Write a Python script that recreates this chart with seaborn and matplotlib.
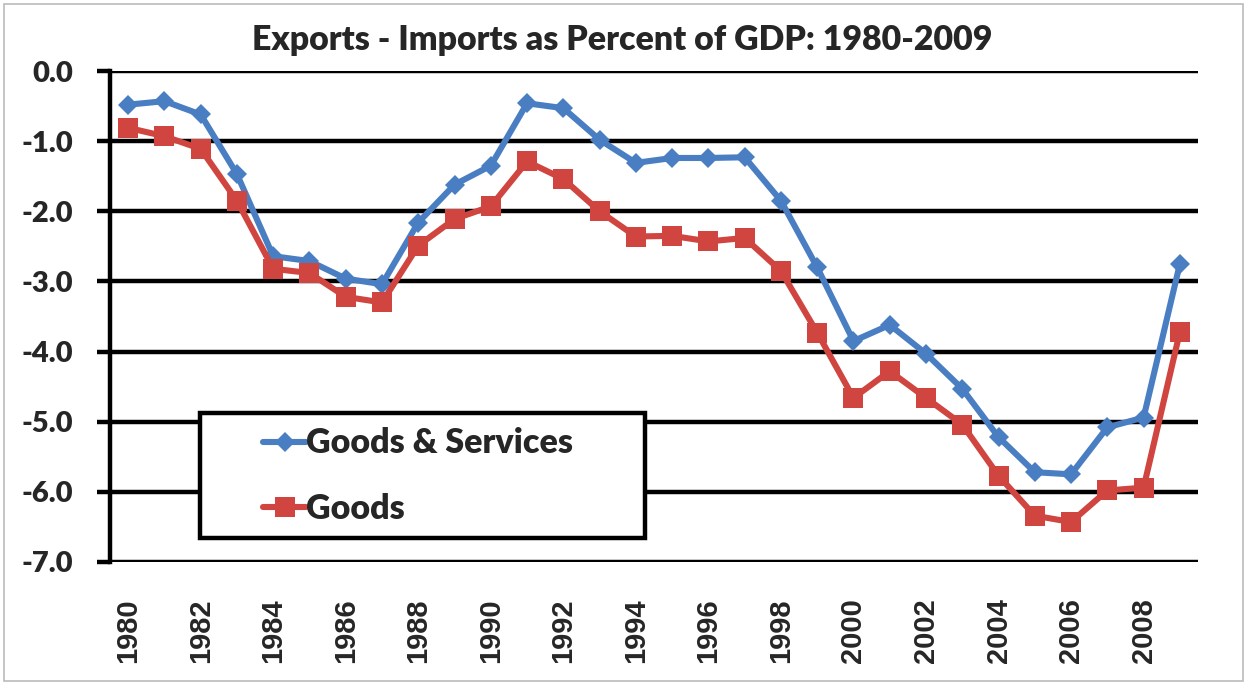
import matplotlib
matplotlib.use("Agg")
import matplotlib.pyplot as plt
from matplotlib.patches import Rectangle
from matplotlib.lines import Line2D
import numpy as np
import pandas as pd
import seaborn as sns

# Trade balance, percent of GDP
years = list(range(1980, 2010))
goods_services = [-0.48, -0.43, -0.62, -1.47, -2.64, -2.71, -2.96, -3.04,
                  -2.16, -1.62, -1.35, -0.46, -0.53, -0.98, -1.31, -1.24,
                  -1.24, -1.23, -1.85, -2.80, -3.85, -3.62, -4.03, -4.53,
                  -5.22, -5.72, -5.75, -5.08, -4.94, -2.75]
goods = [-0.81, -0.93, -1.11, -1.85, -2.82, -2.88, -3.22, -3.30,
         -2.49, -2.11, -1.93, -1.29, -1.54, -2.00, -2.36, -2.35,
         -2.43, -2.38, -2.85, -3.73, -4.66, -4.28, -4.66, -5.04,
         -5.77, -6.34, -6.43, -5.98, -5.94, -3.72]
series_names = ["Goods & Services", "Goods"]
y_ticks = [0.0, -1.0, -2.0, -3.0, -4.0, -5.0, -6.0, -7.0]
x_ticks = list(range(1980, 2010, 2))
title = "Exports - Imports as Percent of GDP: 1980-2009"

df = pd.DataFrame({
    "year": years * 2,
    "value": goods_services + goods,
    "series": [series_names[0]] * len(years) + [series_names[1]] * len(years),
})

blue = "#4A7EC2"
red = "#D0453F"

sns.set_theme(style="white")
plt.rcParams["font.family"] = ["Lato", "DejaVu Sans"]

fig = plt.figure(figsize=(12.47, 6.87), dpi=100)
ax = fig.add_axes([110 / 1247, 1 - 562 / 687, (1198 - 110) / 1247, (562 - 71) / 687])

# Horizontal gridlines drawn first so the series sit above them
for yv in y_ticks:
    ax.axhline(yv, color="black", lw=3.2, zorder=1)

styles = {
    series_names[0]: dict(color=blue, marker="D", ms=10.5),
    series_names[1]: dict(color=red, marker="s", ms=14),
}
for name in series_names:
    st = styles[name]
    sns.lineplot(data=df[df["series"] == name], x="year", y="value", ax=ax,
                 color=st["color"], marker=st["marker"], markersize=st["ms"],
                 markeredgewidth=0, linewidth=4.4, zorder=3, legend=False)

ax.set_xlim(1979.5, 2009.5)
ax.set_ylim(-7.0, 0.0)
ax.set_xlabel("")
ax.set_ylabel("")
ax.grid(False)

for side in ["top", "right", "bottom"]:
    ax.spines[side].set_visible(False)
ax.spines["left"].set_color("black")
ax.spines["left"].set_linewidth(3.2)
ax.spines["left"].set_zorder(2)

ax.set_yticks(y_ticks)
ax.set_yticklabels([f"{v:.1f}" for v in y_ticks], fontsize=21, fontweight="heavy")
ax.tick_params(axis="y", direction="out", length=9.5, width=3.2, color="black",
               pad=17, left=True)

ax.set_xticks(x_ticks)
ax.set_xticklabels([str(v) for v in x_ticks], rotation=90, fontsize=21,
                   fontweight="bold", family="Liberation Sans")
ax.tick_params(axis="x", length=0, pad=26)

# Legend box
ax.add_patch(Rectangle(((200 - 110) / 1088, (562 - 538) / 491),
                       (645 - 200) / 1088, (538 - 413) / 491,
                       transform=ax.transAxes, facecolor="white",
                       edgecolor="black", lw=3.2, zorder=5))
handles = [Line2D([], [], color=styles[n]["color"], marker=styles[n]["marker"],
                  markersize=styles[n]["ms"], markeredgewidth=0, linewidth=4.4)
           for n in series_names]
leg = ax.legend(handles, series_names, loc="center left",
                bbox_to_anchor=((263 - 110) / 1088, (562 - 476) / 491),
                frameon=False, handlelength=1.27, handletextpad=0.0,
                labelspacing=0.97, borderpad=0, borderaxespad=0,
                prop={"family": "Lato", "weight": "heavy", "size": 24.5})
leg.set_zorder(6)

fig.text(622 / 1247, 1 - 40 / 687, title, ha="center", va="center",
         fontsize=24.4, fontweight="heavy")

# Thin outer frame around the figure
fig.patches.append(Rectangle((4 / 1247, 6 / 687), 1 - 8 / 1247, 1 - 10 / 687,
                             transform=fig.transFigure, fill=False,
                             edgecolor="#BBBBBB", lw=1.2))

fig.savefig("out.png", dpi=100, facecolor="white")
